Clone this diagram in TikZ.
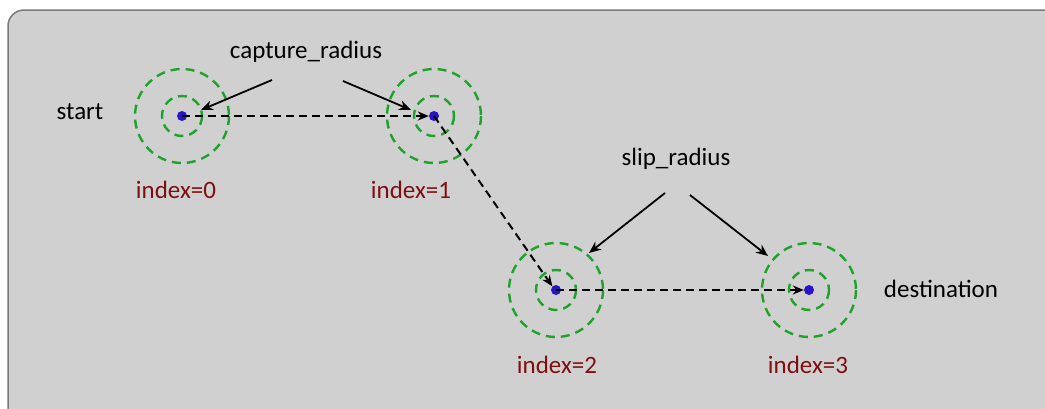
\documentclass[tikz,border=0pt]{standalone}
\usepackage{fontspec}
\setmainfont{Carlito}
\usetikzlibrary{arrows.meta}
\definecolor{panel}{HTML}{D0D0D0}
\definecolor{rim}{HTML}{7A7A7A}
\definecolor{ringgreen}{HTML}{1FA22A}
\definecolor{dotblue}{HTML}{2A14C8}
\definecolor{idxred}{HTML}{7E0F10}
\tikzset{
  ring/.style={draw=ringgreen, line width=2.4pt, dash pattern=on 9pt off 6pt},
  wp/.style={circle, fill=dotblue, inner sep=0pt, minimum size=10pt},
  lbl/.style={font=\fontsize{25}{30}\selectfont, text=black},
  idx/.style={font=\fontsize{25}{30}\selectfont, text=idxred},
  path/.style={draw=black, line width=2pt, dash pattern=on 8pt off 5pt, -{Stealth[length=11pt,width=9pt]}},
  pointer/.style={draw=black, line width=1.8pt, -{Stealth[length=12pt,width=10pt]}}
}
\begin{document}
\begin{tikzpicture}[x=1pt,y=-1pt]
\useasboundingbox (0,0) rectangle (1045,408);
\begin{scope}
  \clip (0,0) rectangle (1045,408);
  \fill[white] (0,0) rectangle (1045,408);
  \draw[rim, fill=panel, line width=1.5pt, rounded corners=16pt] (8,10) rectangle (1070,430);
\end{scope}

% waypoints with their capture and slip rings
\foreach \n/\px/\py in {0/182/116, 1/434/116, 2/556/290, 3/809/290}{
  \draw[ring] (\px,\py) circle (47);
  \draw[ring] (\px,\py) circle (20);
  \node[wp] (w\n) at (\px,\py) {};
}

% labels
\node[lbl] (start) at (80,112) {start};
\node[lbl] (dest) at (941,289) {destination};
\node[lbl] (cap) at (306,52) {capture\_radius};
\node[lbl] (slip) at (676,159) {slip\_radius};
\node[idx] (i0) at (176,190) {index=0};
\node[idx] (i1) at (411,190) {index=1};
\node[idx] (i2) at (557,365) {index=2};
\node[idx] (i3) at (808,365) {index=3};

% route between waypoints
\draw[path] (w0.center) -- (w1.west);
\draw[path] (w1.center) -- (w2.north west);
\draw[path] (w2.center) -- (w3.west);

% pointers to the rings
\coordinate (c0) at (201,110);
\coordinate (c1) at (411,110);
\coordinate (s0) at (589,253);
\coordinate (s1) at (768,256);
\draw[pointer] (272,80) -- (c0);
\draw[pointer] (343,81) -- (c1);
\draw[pointer] (665,193) -- (s0);
\draw[pointer] (690,195) -- (s1);
\end{tikzpicture}
\end{document}
